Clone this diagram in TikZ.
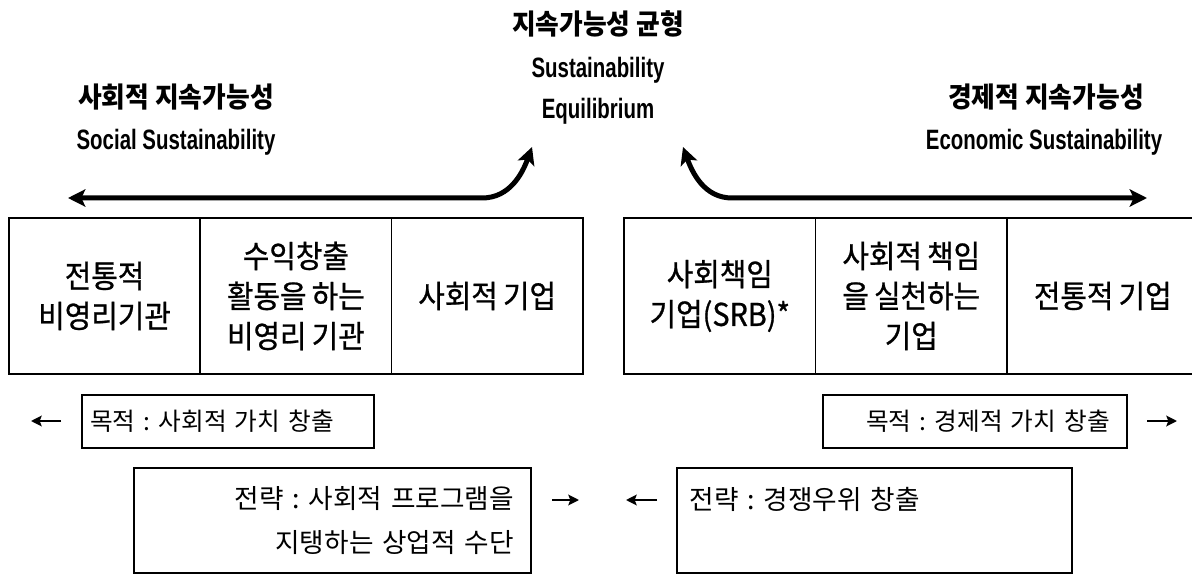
\documentclass[tikz,border=0pt]{standalone}
\usepackage{fontspec}
\setmainfont[WordSpace=0.9]{Noto Sans CJK KR}
\newfontfamily\cellfont[FakeStretch=0.92,FakeBold=0.8,WordSpace=0.8]{Noto Sans CJK KR}
\newfontfamily\headko[FakeStretch=0.92]{Noto Sans CJK KR}
\newfontfamily\headen[FakeStretch=0.73]{Liberation Sans}
\usetikzlibrary{arrows.meta}
\frenchspacing

\tikzset{every picture/.style={line width=0.75pt}}
\tikzset{
  cellbox/.style={draw, line width=1.1pt, minimum width=143.6pt, minimum height=117pt, inner sep=0pt, align=center, font=\cellfont\fontsize{23.5pt}{30pt}\selectfont},
  goalbox/.style={draw, line width=1.1pt, minimum height=39.75pt, inner ysep=0pt, font=\fontsize{18.5pt}{22pt}\selectfont},
  stratbox/.style={draw, line width=1.1pt, minimum height=78.75pt, inner ysep=0pt, font=\fontsize{20pt}{33pt}\selectfont},
  headkotext/.style={inner sep=0pt, font=\headko\bfseries\fontsize{21pt}{25pt}\selectfont},
  headentext/.style={inner sep=0pt, font=\headen\bfseries\fontsize{21pt}{25pt}\selectfont},
  bigarrow/.style={line width=3.75pt, {Stealth[length=13pt,width=13pt,inset=3pt]}-{Stealth[length=13pt,width=13pt,inset=3pt]}},
  smallarrow/.style={line width=2.2pt, -{Stealth[length=8pt,width=8pt,inset=1.5pt]}}
}

\begin{document}
\begin{tikzpicture}[x=0.75pt,y=0.75pt,yscale=-1,xscale=1]
	\useasboundingbox (0,0) rectangle (1192,574);

	% Text Node
	\node[headkotext, anchor=base] (eqTitle) at (598,35) {지속가능성 균형};
	% Text Node
	\node[headentext, anchor=base] (eqSub) at (598,78) {Sustainability};
	% Text Node
	\node[headentext, anchor=base] (eqSubB) at (598,119) {Equilibrium};
	% Text Node
	\node[headkotext, anchor=base] (socTitle) at (176,108) {사회적 지속가능성};
	% Text Node
	\node[headentext, anchor=base] (socSub) at (176,150) {Social Sustainability};
	% Text Node
	\node[headkotext, anchor=base] (ecoTitle) at (1046,108) {경제적 지속가능성};
	% Text Node
	\node[headentext, anchor=base] (ecoSub) at (1044,150) {Economic Sustainability};

	%Curve Lines
	\coordinate (eqLeft) at (532,147);
	\coordinate (socBend) at (482,198);
	\coordinate (socEnd) at (68,198);
	\draw[bigarrow] (eqLeft) to[out=110,in=0] (socBend) -- (socEnd);
	%Curve Lines
	\coordinate (eqRight) at (683,147);
	\coordinate (ecoBend) at (732,198);
	\coordinate (ecoEnd) at (1147,198);
	\draw[bigarrow] (eqRight) to[out=70,in=180] (ecoBend) -- (ecoEnd);

	%Shape: Rectangle
	\node[cellbox] (cNpo) at (104.6,296) {전통적\\비영리기관};
	%Shape: Rectangle
	\node[cellbox] (cNpoRev) at (295.9,296) {수익창출\\활동을 하는\\비영리 기관};
	%Shape: Rectangle
	\node[cellbox] (cSocEnt) at (487.2,296) {사회적 기업};
	%Shape: Rectangle
	\node[cellbox] (cSrb) at (719.8,296) {사회책임\\기업(SRB)*};
	%Shape: Rectangle
	\node[cellbox] (cCsr) at (911.3,296) {사회적 책임\\을 실천하는\\기업};
	%Shape: Rectangle
	\node[cellbox] (cBiz) at (1102.8,296) {전통적 기업};

	%Shape: Rectangle
	\node[goalbox, inner xsep=6pt, text width=207pt, align=left] (goalSoc) at (228,421.5) {목적 : 사회적 가치 창출};
	%Shape: Rectangle
	\node[goalbox, inner xsep=12.75pt, text width=202.5pt, align=right] (goalEco) at (975,421.5) {목적 : 경제적 가치 창출};
	%Shape: Rectangle
	\node[stratbox, inner xsep=12.75pt, text width=272.25pt, align=right] (stratSoc) at (332.5,520.5) {전략 : 사회적 프로그램을\\지탱하는 상업적 수단};
	%Shape: Rectangle
	\node[stratbox, minimum width=296.25pt] (stratEco) at (874.5,520.5) {};
	% Text Node
	\node[inner sep=0pt, anchor=west, text width=250pt, align=left, font=\fontsize{20pt}{33pt}\selectfont] (stratEcoText) at (689,499) {전략 : 경쟁우위 창출};

	%Straight Lines
	\coordinate (gsTail) at (61,421);
	\coordinate (gsHead) at (31,421);
	\draw[smallarrow] (gsTail) -- (gsHead);
	%Straight Lines
	\coordinate (ssTail) at (552,500);
	\coordinate (ssHead) at (579,500);
	\draw[smallarrow] (ssTail) -- (ssHead);
	%Straight Lines
	\coordinate (seTail) at (657,500);
	\coordinate (seHead) at (626,500);
	\draw[smallarrow] (seTail) -- (seHead);
	%Straight Lines
	\coordinate (geTail) at (1147,421);
	\coordinate (geHead) at (1177,421);
	\draw[smallarrow] (geTail) -- (geHead);

\end{tikzpicture}
\end{document}
